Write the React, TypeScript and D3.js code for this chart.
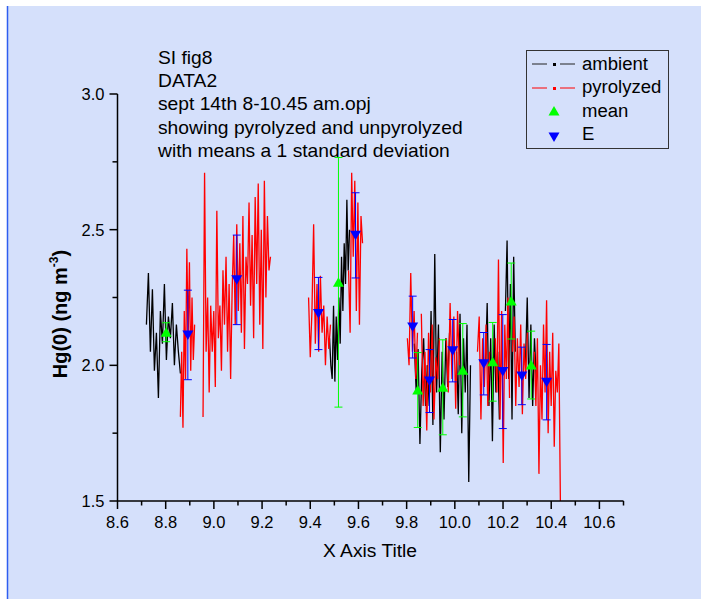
import React from "react";
import * as d3 from "d3";

const W = 701;
const H = 599;
const FONT = "'Liberation Sans', Arial, Helvetica, sans-serif";

// ---- axes ----
const xMajorTicks = [8.6, 8.8, 9.0, 9.2, 9.4, 9.6, 9.8, 10.0, 10.2, 10.4, 10.6];
const xMinorTicks = [8.7, 8.9, 9.1, 9.3, 9.5, 9.7, 9.9, 10.1, 10.3, 10.5, 10.7];
const yMajorTicks = [1.5, 2.0, 2.5, 3.0];
const yMinorTicks = [1.75, 2.25, 2.75];

const titleLines = [
  "SI fig8",
  "DATA2",
  "sept 14th 8-10.45 am.opj",
  "showing pyrolyzed and unpyrolyzed",
  "with means a 1 standard deviation",
];
const legendLabels = ["ambient", "pyrolyzed", "mean", "E"];

// ---- ambient (black) blocks ----
const ambientA = [2.15, 2.34, 2.05, 2.28, 1.98, 2.12, 1.88, 2.2, 2.08, 2.3, 2.02, 2.18, 2.1, 2.23, 2.0, 2.15, 2.05, 1.97];
const ambientB = [2.1, 2.0, 1.95, 2.22, 1.94, 2.18, 2.02, 2.25, 2.08, 2.4, 2.2, 2.45, 2.3, 2.61, 2.35, 2.5];
const ambientC = [2.08, 1.9, 2.06, 1.71, 1.98, 2.1, 1.85, 2.0];
const ambientD = [2.0, 1.85, 2.2, 1.78, 2.41, 1.9, 2.15, 1.68, 2.05, 1.8, 2.1, 1.92, 2.12];
const ambientE = [2.05, 1.82, 2.19, 1.75, 2.1, 1.9, 2.15, 1.57, 2.0];
const ambientF = [2.0, 2.23, 1.85, 2.1, 1.72, 2.15, 1.9, 2.05, 1.8];
const ambientG = [2.2, 2.46, 1.95, 2.3, 1.8, 2.4, 2.05];
const ambientH = [2.0, 2.25, 1.88, 2.15, 1.85, 2.1, 1.95];

// ---- pyrolyzed (red) blocks ----
const pyroA = [1.81, 2.05, 1.77, 2.2, 1.95, 2.43, 2.1, 2.38, 1.98, 2.25, 2.02, 2.15];
const pyroB = [
  1.81, 2.71, 2.05, 2.25, 1.9, 2.22, 2.05, 2.2, 1.92, 2.57,
  2.1, 2.22, 1.98, 2.35, 2.15, 2.4, 2.05, 2.3, 1.95, 2.28,
  2.48, 2.15, 2.52, 2.2, 2.45, 2.12, 2.55, 2.06, 2.4, 2.3,
  2.6, 2.22, 2.48, 2.1, 2.62, 2.3, 2.67, 2.15, 2.5, 2.06,
  2.68, 2.25, 2.55, 2.35, 2.4,
];
const pyroC = [2.25, 2.03, 2.2, 2.52, 2.08, 2.3, 2.05, 2.33, 2.12, 2.22, 2.0, 2.18, 2.06, 2.15];
const pyroD = [2.35, 2.12, 2.71, 2.4, 2.68, 2.2, 2.6, 2.15, 2.55, 2.45];
const pyroE = [2.1, 2.0, 2.34, 2.05, 2.2, 1.95, 2.12];
const pyroF = [2.19, 1.85, 2.05, 1.76, 2.12, 1.9, 2.15, 1.8, 2.03, 1.95, 2.1];
const pyroG = [2.1, 1.9, 2.23, 1.95, 2.18, 1.84, 2.2, 2.0];
const pyroH = [2.05, 2.18, 1.8, 2.1, 1.92, 2.15, 1.85, 2.05];
const pyroI = [2.1, 1.9, 2.39, 1.8, 2.2, 1.64, 2.15, 1.95, 2.25, 1.88];
const pyroJ = [2.05, 2.18, 1.85, 2.1, 1.92, 2.15, 1.82, 2.08, 1.95, 2.12];
const pyroK = [2.05, 1.85, 2.1, 1.6, 2.0, 1.8, 2.15, 1.9, 2.24, 1.75, 2.05, 1.85, 2.12, 1.7, 1.98, 1.9, 2.08, 1.5];

// time span (x start, x end) of each block
const ambientSpans = [[8.72, 8.861], [9.48, 9.563], [9.832, 9.886], [9.886, 9.978], [10.007, 10.065], [10.127, 10.185], [10.21, 10.251], [10.293, 10.338]];
const ambientBlocks = [ambientA, ambientB, ambientC, ambientD, ambientE, ambientF, ambientG, ambientH];
const pyroSpans = [[8.861, 8.92], [8.955, 9.235], [9.393, 9.484], [9.559, 9.617], [9.803, 9.845], [9.861, 9.936], [9.965, 10.019], [10.094, 10.144], [10.168, 10.227], [10.239, 10.301], [10.33, 10.438]];
const pyroBlocks = [pyroA, pyroB, pyroC, pyroD, pyroE, pyroF, pyroG, pyroH, pyroI, pyroJ, pyroK];

// ---- mean (green) and E (blue) with 1 s.d. ----
const meanX = [8.802, 9.517, 9.846, 9.95, 10.033, 10.157, 10.234, 10.317];
const meanY = [2.122, 2.306, 1.909, 1.919, 1.982, 2.013, 2.237, 2.001];
const meanErr = [0.035, 0.46, 0.138, 0.175, 0.172, 0.145, 0.14, 0.125];

const eX = [8.892, 9.095, 9.434, 9.588, 9.825, 9.895, 9.991, 10.12, 10.199, 10.278, 10.381];
const eY = [2.112, 2.315, 2.191, 2.479, 2.141, 1.942, 2.054, 2.006, 1.977, 1.961, 1.938];
const eErr = [0.165, 0.165, 0.133, 0.157, 0.114, 0.116, 0.115, 0.115, 0.21, 0.106, 0.139];

const triUp = "M0,-5 L5.5,4.5 L-5.5,4.5 Z";
const triDown = "M0,5 L5.5,-4.5 L-5.5,-4.5 Z";

function SText(props: { x: number; y: number; size: number; sx?: number; anchor?: string; children: React.ReactNode; bold?: boolean }) {
  const { x, y, size, sx = 1.0, anchor = "start", children, bold } = props;
  return (
    <text
      transform={`translate(${x},${y}) scale(${sx},1)`}
      fontSize={size}
      fontFamily={FONT}
      fontWeight={bold ? "bold" : "normal"}
      textAnchor={anchor as any}
      fill="#000"
    >
      {children}
    </text>
  );
}

export default function App() {
  const x = d3.scaleLinear().domain([8.6, 10.7]).range([117.5, 623.5]);
  const y = d3.scaleLinear().domain([1.5, 3.0]).range([501, 94]);
  const line = d3
    .line<[number, number]>()
    .x((d) => x(d[0]))
    .y((d) => y(d[1]));
  const pts = (span: number[], v: number[]): [number, number][] =>
    v.map((val, i) => [span[0] + ((span[1] - span[0]) * i) / (v.length - 1), val]);
  const fmt = d3.format(".1f");

  const x0 = x.range()[0];
  const x1 = x.range()[1];
  const yb = y.range()[0];
  const yt = y.range()[1];

  return (
    <svg width={W} height={H} style={{ position: "absolute", left: 0, top: 0 }}>
      <rect x={0} y={0} width={W} height={H} fill="#ffffff" />
      <rect x={7} y={6} width={W} height={H} fill="#d5e0fb" />
      <line x1={7.5} y1={6} x2={7.5} y2={H} stroke="#2f5ef0" strokeWidth={1.5} />

      {/* data lines */}
      <g fill="none" strokeWidth={1.3} strokeLinejoin="miter">
        {ambientBlocks.map((b, i) => (
          <path key={"a" + i} d={line(pts(ambientSpans[i], b)) || ""} stroke="#000000" />
        ))}
        {pyroBlocks.map((b, i) => (
          <path key={"p" + i} d={line(pts(pyroSpans[i], b)) || ""} stroke="#ff0000" />
        ))}
      </g>

      {/* mean */}
      <g stroke="#00ff00" strokeWidth={1}>
        {meanX.map((mx, i) => (
          <g key={"m" + i}>
            <line x1={x(mx)} x2={x(mx)} y1={y(meanY[i] + meanErr[i])} y2={y(meanY[i] - meanErr[i])} />
            <line x1={x(mx) - 4} x2={x(mx) + 4} y1={y(meanY[i] + meanErr[i])} y2={y(meanY[i] + meanErr[i])} />
            <line x1={x(mx) - 4} x2={x(mx) + 4} y1={y(meanY[i] - meanErr[i])} y2={y(meanY[i] - meanErr[i])} />
          </g>
        ))}
      </g>
      {meanX.map((mx, i) => (
        <path key={"mt" + i} d={triUp} transform={`translate(${x(mx)},${y(meanY[i])})`} fill="#00ff00" />
      ))}

      {/* E */}
      <g stroke="#0000ff" strokeWidth={1}>
        {eX.map((ex, i) => (
          <g key={"e" + i}>
            <line x1={x(ex)} x2={x(ex)} y1={y(eY[i] + eErr[i])} y2={y(eY[i] - eErr[i])} />
            <line x1={x(ex) - 4} x2={x(ex) + 4} y1={y(eY[i] + eErr[i])} y2={y(eY[i] + eErr[i])} />
            <line x1={x(ex) - 4} x2={x(ex) + 4} y1={y(eY[i] - eErr[i])} y2={y(eY[i] - eErr[i])} />
          </g>
        ))}
      </g>
      {eX.map((ex, i) => (
        <path key={"et" + i} d={triDown} transform={`translate(${x(ex)},${y(eY[i])})`} fill="#0000ff" />
      ))}

      {/* axes */}
      <g stroke="#000" strokeWidth={1.5}>
        <line x1={x0} x2={x0} y1={yt} y2={yb} />
        <line x1={x0} x2={x1} y1={yb} y2={yb} />
        {yMajorTicks.map((t) => (
          <line key={"ym" + t} x1={x0 - 8} x2={x0} y1={y(t)} y2={y(t)} />
        ))}
        {yMinorTicks.map((t) => (
          <line key={"yn" + t} x1={x0 - 5} x2={x0} y1={y(t)} y2={y(t)} />
        ))}
        {xMajorTicks.map((t) => (
          <line key={"xm" + t} x1={x(t)} x2={x(t)} y1={yb} y2={yb + 8} />
        ))}
        {xMinorTicks.map((t) => (
          <line key={"xn" + t} x1={x(t)} x2={x(t)} y1={yb} y2={yb + 4.5} />
        ))}
      </g>
      {yMajorTicks.map((t) => (
        <SText key={"yl" + t} x={x0 - 13} y={y(t) + 6} size={16.5} anchor="end">
          {fmt(t)}
        </SText>
      ))}
      {xMajorTicks.map((t) => (
        <SText key={"xl" + t} x={x(t)} y={527.5} size={16.5} anchor="middle">
          {fmt(t)}
        </SText>
      ))}
      <SText x={370} y={557} size={18} sx={1.07} anchor="middle">
        X Axis Title
      </SText>
      <text
        transform={`translate(67,314) rotate(-90)`}
        fontSize={20}
        fontWeight="bold"
        fontFamily={FONT}
        textAnchor="middle"
      >
        Hg(0) (ng m
        <tspan fontSize={12} dy={-9}>-3</tspan>
        <tspan dy={9}>)</tspan>
      </text>

      {/* title */}
      {titleLines.map((t, i) => (
        <SText key={"t" + i} x={158} y={63.5 + i * 23.4} size={18.5} sx={1.04}>
          {t}
        </SText>
      ))}

      {/* legend */}
      <rect x={526.5} y={50.5} width={142} height={98} fill="none" stroke="#333" strokeWidth={1} />
      <g strokeWidth={1}>
        <line x1={532} x2={547} y1={64} y2={64} stroke="#222" />
        <rect x={553} y={63} width={3} height={3} fill="#000" />
        <line x1={560} x2={575} y1={64} y2={64} stroke="#222" />
        <line x1={532} x2={547} y1={88} y2={88} stroke="#ff0000" />
        <rect x={553} y={87} width={3} height={3} fill="#ff0000" />
        <line x1={560} x2={575} y1={88} y2={88} stroke="#ff0000" />
      </g>
      <path d={triUp} transform="translate(554,111)" fill="#00ff00" />
      <path d={triDown} transform="translate(554,137)" fill="#0000ff" />
      {legendLabels.map((l, i) => (
        <SText key={"l" + i} x={582} y={70 + i * 23.4} size={18} sx={1.03}>
          {l}
        </SText>
      ))}
    </svg>
  );
}
